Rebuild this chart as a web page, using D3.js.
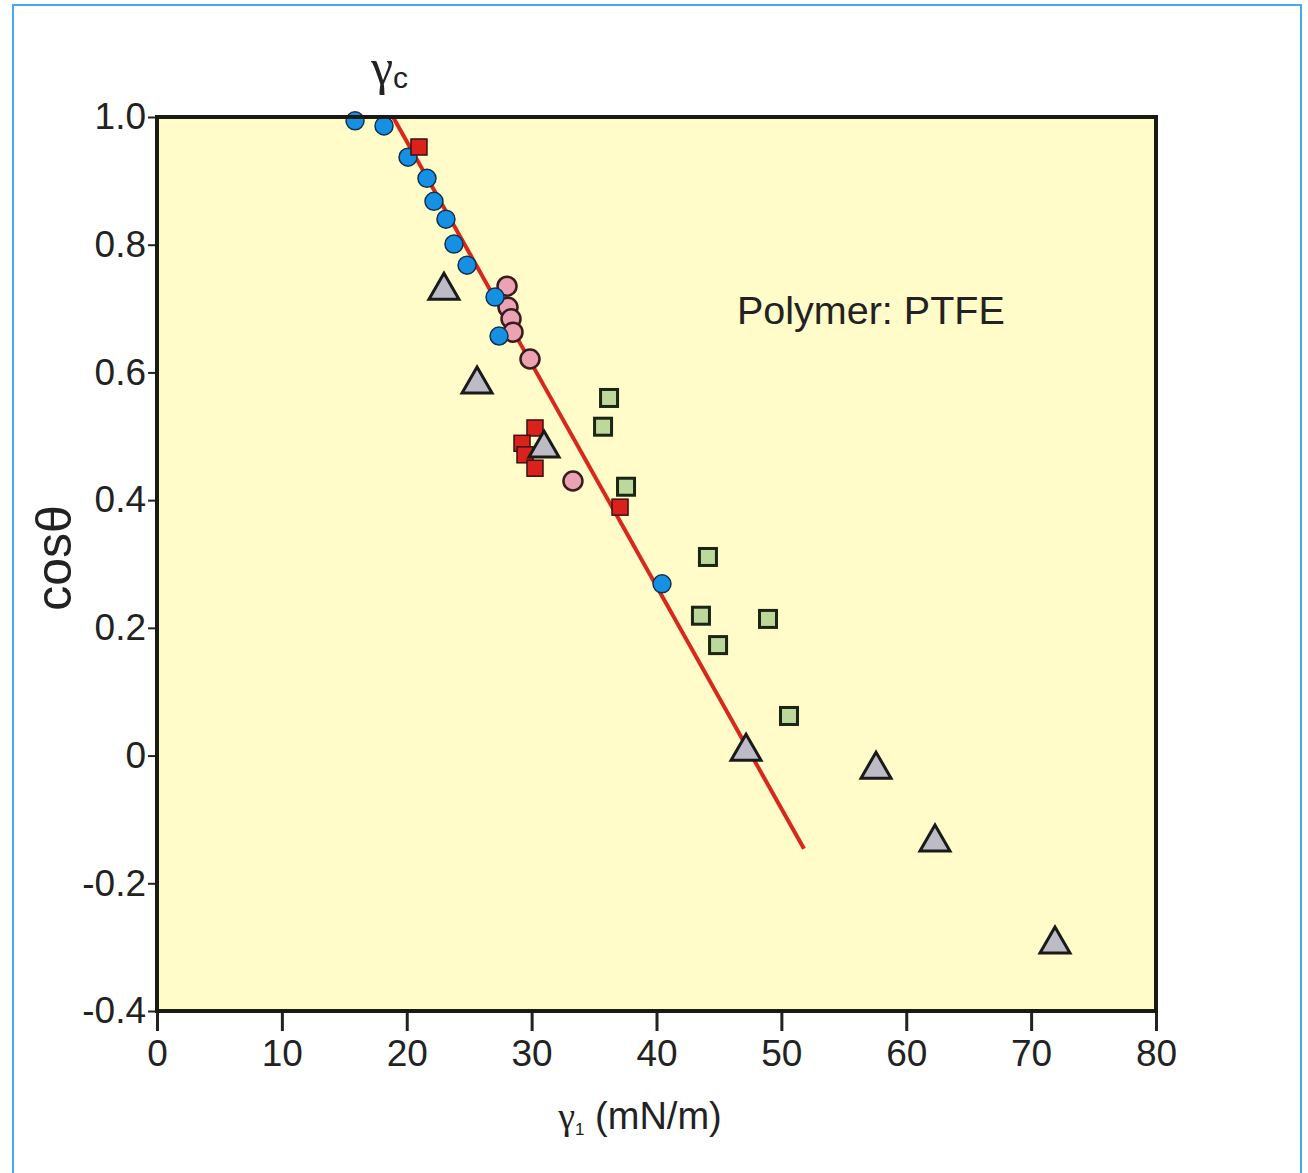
<!DOCTYPE html>
<html>
<head>
  <meta charset="utf-8" />
  <title>cos theta vs gamma - PTFE</title>
  <script src="https://cdn.jsdelivr.net/npm/d3@7"></script>
  <style>
    body { margin: 0; background: #fff; }
    text { font-family: "Liberation Sans", Arial, sans-serif; fill: #222; }
  </style>
</head>
<body>
<div id="vis"></div>
<script>
// values
var xTicks = [0, 10, 20, 30, 40, 50, 60, 70, 80];
var yTicks = [1.0, 0.8, 0.6, 0.4, 0.2, 0, -0.2, -0.4];
var yTickLabels = ["1.0", "0.8", "0.6", "0.4", "0.2", "0", "-0.2", "-0.4"];

var blueX = [15.86, 18.18, 20.1, 21.62, 22.18, 23.14, 23.78, 24.83, 27.07, 27.39, 40.44];
var blueY = [0.994, 0.986, 0.937, 0.904, 0.868, 0.840, 0.801, 0.768, 0.718, 0.657, 0.269];

var pinkX = [28.03, 28.11, 28.35, 28.51, 29.87, 33.31];
var pinkY = [0.735, 0.702, 0.684, 0.663, 0.621, 0.430];

var redX = [20.98, 30.27, 29.23, 29.47, 30.27, 37.08];
var redY = [0.953, 0.513, 0.489, 0.471, 0.450, 0.389];

var greenX = [36.20, 35.72, 37.56, 44.12, 43.56, 44.93, 48.93, 50.61];
var greenY = [0.560, 0.515, 0.421, 0.311, 0.219, 0.173, 0.214, 0.062];

var triX = [22.98, 25.63, 30.99, 47.17, 57.58, 62.30, 71.91];
var triY = [0.735, 0.588, 0.488, 0.013, -0.015, -0.129, -0.289];

var fitX = [18.9, 51.81];
var fitY = [1.0, -0.146];

var w = 1308, h = 1173;
var pLeft = 157, pRight = 1156, pTop = 117, pBottom = 1011;

function pts(xs, ys) {
  return xs.map(function(d, i) { return { x: d, y: ys[i] }; });
}

var svg = d3.select("#vis").append("svg")
  .attr("width", w)
  .attr("height", h);

// outer blue frame
svg.append("rect")
  .attr("x", 13).attr("y", 5)
  .attr("width", 1288).attr("height", 1200)
  .attr("fill", "white")
  .attr("stroke", "#45aaf0")
  .attr("stroke-width", 2);

var x = d3.scaleLinear().domain([0, 80]).range([pLeft, pRight]);
var y = d3.scaleLinear().domain([-0.4, 1.0]).range([pBottom, pTop]);

svg.append("rect")
  .attr("x", pLeft).attr("y", pTop)
  .attr("width", pRight - pLeft).attr("height", pBottom - pTop)
  .attr("fill", "#fffcc9");

// axes
var yAxis = d3.axisLeft(y)
  .tickValues(yTicks)
  .tickSize(9)
  .tickPadding(2)
  .tickFormat(function(d, i) { return yTickLabels[i]; });

var gy = svg.append("g").attr("transform", "translate(" + pLeft + ",0)").call(yAxis);
gy.select(".domain").remove();
gy.selectAll(".tick line").attr("stroke", "#222").attr("stroke-width", 2);
gy.selectAll(".tick text").style("font-size", "37px").attr("fill", "#2e2e38");

var xAxis = d3.axisBottom(x)
  .tickValues(xTicks)
  .tickSize(20)
  .tickPadding(9)
  .tickFormat(function(d) { return String(d); });

var gx = svg.append("g").attr("transform", "translate(0," + pBottom + ")").call(xAxis);
gx.select(".domain").remove();
gx.selectAll(".tick line").attr("stroke", "#222").attr("stroke-width", 3);
gx.selectAll(".tick text").style("font-size", "37px").attr("fill", "#2e2e38");

// fit line
svg.append("path")
  .datum(pts(fitX, fitY))
  .attr("d", d3.line().x(function(d) { return x(d.x); }).y(function(d) { return y(d.y); }))
  .attr("stroke", "#d8281c")
  .attr("stroke-width", 4)
  .attr("fill", "none");

// green squares
svg.selectAll("rect.green")
  .data(pts(greenX, greenY))
  .enter().append("rect")
  .attr("class", "green")
  .attr("x", function(d) { return x(d.x) - 8.5; })
  .attr("y", function(d) { return y(d.y) - 8.5; })
  .attr("width", 17).attr("height", 17)
  .attr("fill", "#bcd89a")
  .attr("stroke", "#1c2414")
  .attr("stroke-width", 3);

// pink circles
svg.selectAll("circle.pink")
  .data(pts(pinkX, pinkY))
  .enter().append("circle")
  .attr("class", "pink")
  .attr("cx", function(d) { return x(d.x); })
  .attr("cy", function(d) { return y(d.y); })
  .attr("r", 9.5)
  .attr("fill", "#eba3b3")
  .attr("stroke", "#3a1c1c")
  .attr("stroke-width", 2.5);

// blue circles
svg.selectAll("circle.blue")
  .data(pts(blueX, blueY))
  .enter().append("circle")
  .attr("class", "blue")
  .attr("cx", function(d) { return x(d.x); })
  .attr("cy", function(d) { return y(d.y); })
  .attr("r", 9)
  .attr("fill", "#1590e2")
  .attr("stroke", "#143050")
  .attr("stroke-width", 1.5);

// red squares
svg.selectAll("rect.red")
  .data(pts(redX, redY))
  .enter().append("rect")
  .attr("class", "red")
  .attr("x", function(d) { return x(d.x) - 8; })
  .attr("y", function(d) { return y(d.y) - 8; })
  .attr("width", 16).attr("height", 16)
  .attr("fill", "#d9221c")
  .attr("stroke", "#3a1010")
  .attr("stroke-width", 1.5);

// grey triangles
var ts = 30, th = 26;
svg.selectAll("path.tri")
  .data(pts(triX, triY))
  .enter().append("path")
  .attr("class", "tri")
  .attr("d", function(d) {
    var cx = x(d.x), cy = y(d.y);
    return "M" + cx + "," + (cy - th / 2) +
           "L" + (cx + ts / 2) + "," + (cy + th / 2) +
           "L" + (cx - ts / 2) + "," + (cy + th / 2) + "Z";
  })
  .attr("fill", "#bdbcc6")
  .attr("stroke", "#1a1a1a")
  .attr("stroke-width", 3)
  .attr("stroke-linejoin", "miter");

// plot frame
svg.append("rect")
  .attr("x", pLeft).attr("y", pTop)
  .attr("width", pRight - pLeft).attr("height", pBottom - pTop)
  .attr("fill", "none")
  .attr("stroke", "#1a1a14")
  .attr("stroke-width", 4);

// texts
svg.append("text")
  .attr("x", 737).attr("y", 324)
  .style("font-size", "39.5px")
  .attr("fill", "#222")
  .text("Polymer: PTFE");

var gc = svg.append("text")
  .attr("x", 371).attr("y", 84);
gc.append("tspan")
  .style("font-family", "'Liberation Serif', 'DejaVu Serif', serif")
  .style("font-size", "50px")
  .text("γ");
gc.append("tspan")
  .style("font-size", "30px")
  .attr("dy", 4)
  .text("c");

var xl = svg.append("text")
  .attr("x", 640).attr("y", 1129)
  .attr("text-anchor", "middle");
xl.append("tspan")
  .style("font-family", "'Liberation Serif', serif")
  .style("font-size", "38px")
  .text("γ");
xl.append("tspan")
  .style("font-size", "17px")
  .attr("dy", 6)
  .text("1");
xl.append("tspan")
  .style("font-size", "38px")
  .attr("dy", -6)
  .text(" (mN/m)");

svg.append("text")
  .attr("transform", "translate(71,558) rotate(-90)")
  .attr("text-anchor", "middle")
  .style("font-size", "50px")
  .text("cosθ");
</script>
</body>
</html>
